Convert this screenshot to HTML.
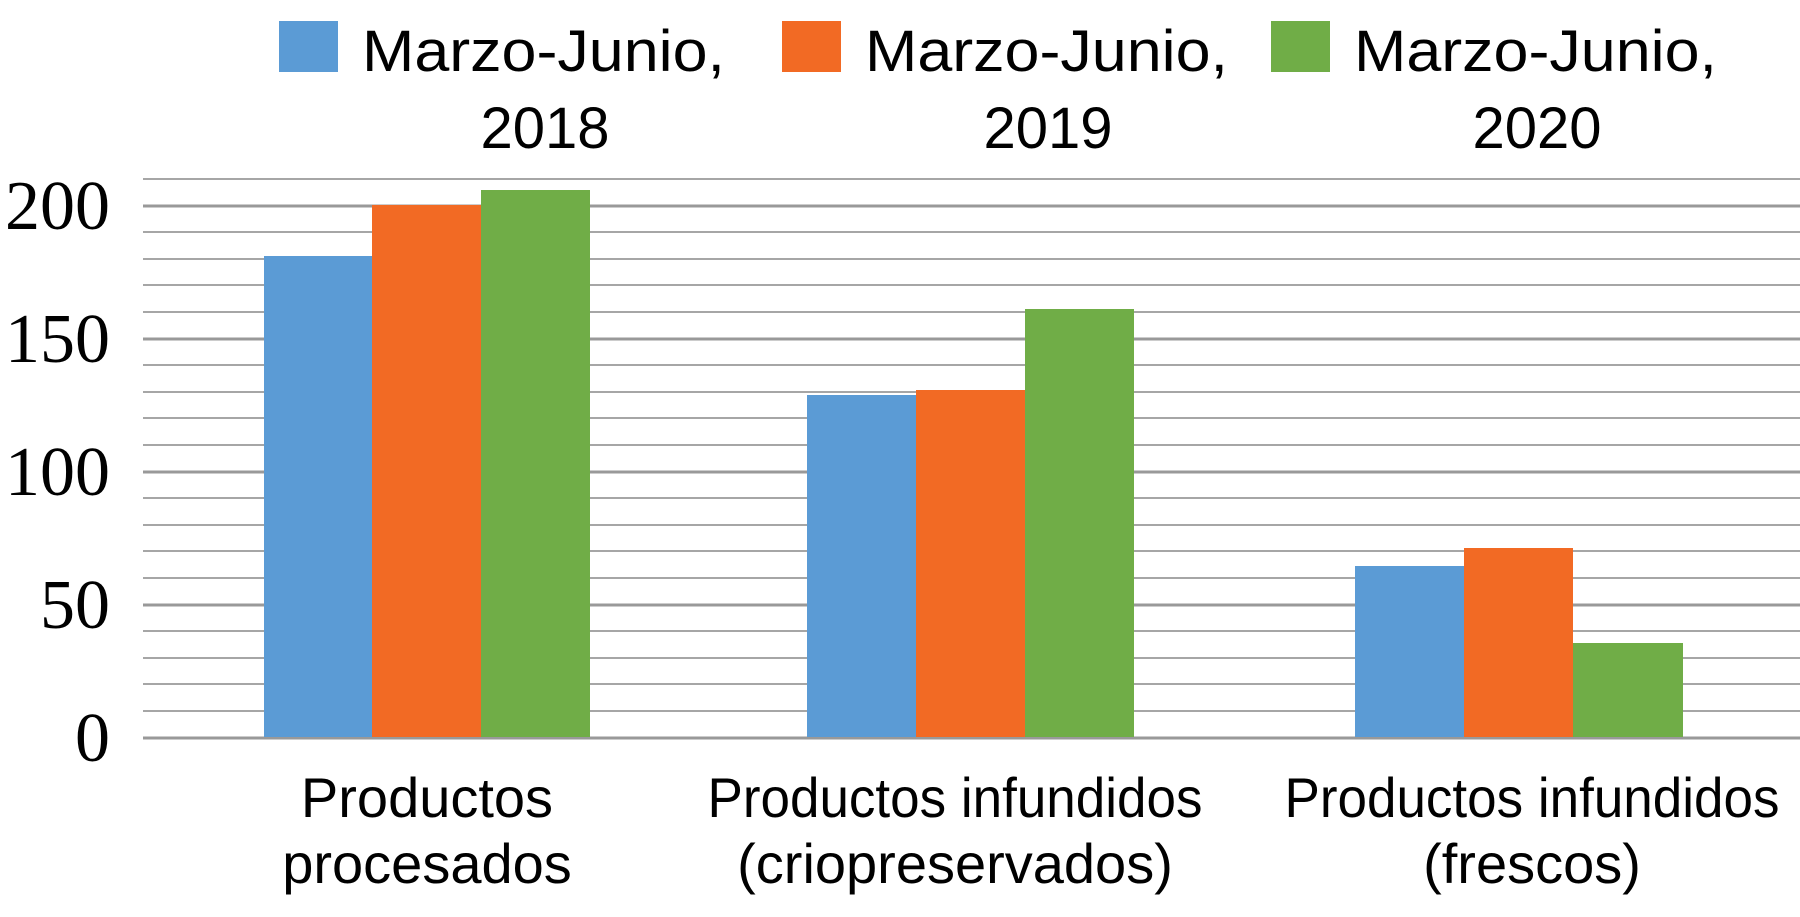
<!DOCTYPE html>
<html><head><meta charset="utf-8"><style>
html,body{margin:0;padding:0;background:#fff;}
svg{display:block;}
text{font-family:"Liberation Sans",sans-serif;fill:#000;}
.t{font-family:"Liberation Serif",serif;font-size:70px;}
</style></head><body>
<svg width="1800" height="917" viewBox="0 0 1800 917" xmlns="http://www.w3.org/2000/svg">
<g stroke="#a6a6a6" stroke-width="2">
<line x1="143" x2="1800" y1="179" y2="179"/>
<line x1="143" x2="1800" y1="232" y2="232"/><line x1="143" x2="1800" y1="259" y2="259"/><line x1="143" x2="1800" y1="285" y2="285"/><line x1="143" x2="1800" y1="312" y2="312"/>
<line x1="143" x2="1800" y1="365" y2="365"/><line x1="143" x2="1800" y1="392" y2="392"/><line x1="143" x2="1800" y1="418" y2="418"/><line x1="143" x2="1800" y1="445" y2="445"/>
<line x1="143" x2="1800" y1="498" y2="498"/><line x1="143" x2="1800" y1="525" y2="525"/><line x1="143" x2="1800" y1="551" y2="551"/><line x1="143" x2="1800" y1="578" y2="578"/>
<line x1="143" x2="1800" y1="631" y2="631"/><line x1="143" x2="1800" y1="658" y2="658"/><line x1="143" x2="1800" y1="684" y2="684"/><line x1="143" x2="1800" y1="711" y2="711"/>
</g>
<g stroke="#999" stroke-width="3">
<line x1="143" x2="1800" y1="206" y2="206"/><line x1="143" x2="1800" y1="339" y2="339"/><line x1="143" x2="1800" y1="472" y2="472"/><line x1="143" x2="1800" y1="605" y2="605"/><line x1="143" x2="1800" y1="738" y2="738"/>
</g>
<g>
<rect x="264" y="256" width="108" height="481" fill="#5b9bd5"/>
<rect x="372" y="205" width="109" height="532" fill="#f26a24"/>
<rect x="481" y="190" width="109" height="547" fill="#70ad47"/>
<rect x="807" y="395" width="109" height="342" fill="#5b9bd5"/>
<rect x="916" y="390" width="109" height="347" fill="#f26a24"/>
<rect x="1025" y="309" width="109" height="428" fill="#70ad47"/>
<rect x="1355" y="566" width="109" height="171" fill="#5b9bd5"/>
<rect x="1464" y="548" width="109" height="189" fill="#f26a24"/>
<rect x="1573" y="643" width="110" height="94" fill="#70ad47"/>
</g>
<g class="t" text-anchor="end">
<text x="110" y="229" class="t">200</text>
<text x="110" y="362" class="t">150</text>
<text x="110" y="495" class="t">100</text>
<text x="110" y="628" class="t">50</text>
<text x="110" y="761" class="t">0</text>
</g>
<g font-size="58">
<rect x="279" y="21" width="59" height="51" fill="#5b9bd5"/>
<text x="362" y="71" textLength="363" lengthAdjust="spacingAndGlyphs">Marzo-Junio,</text>
<text x="545" y="148" text-anchor="middle">2018</text>
<rect x="782" y="21" width="59" height="51" fill="#f26a24"/>
<text x="865" y="71" textLength="363" lengthAdjust="spacingAndGlyphs">Marzo-Junio,</text>
<text x="1048" y="148" text-anchor="middle">2019</text>
<rect x="1271" y="21" width="59" height="51" fill="#70ad47"/>
<text x="1354" y="71" textLength="363" lengthAdjust="spacingAndGlyphs">Marzo-Junio,</text>
<text x="1537" y="148" text-anchor="middle">2020</text>
</g>
<g font-size="56" text-anchor="middle">
<text x="427" y="817">Productos</text>
<text x="427" y="883">procesados</text>
<text x="955" y="817" textLength="495" lengthAdjust="spacingAndGlyphs">Productos infundidos</text>
<text x="955" y="883">(criopreservados)</text>
<text x="1532" y="817" textLength="495" lengthAdjust="spacingAndGlyphs">Productos infundidos</text>
<text x="1532" y="883">(frescos)</text>
</g>
</svg>
</body></html>
